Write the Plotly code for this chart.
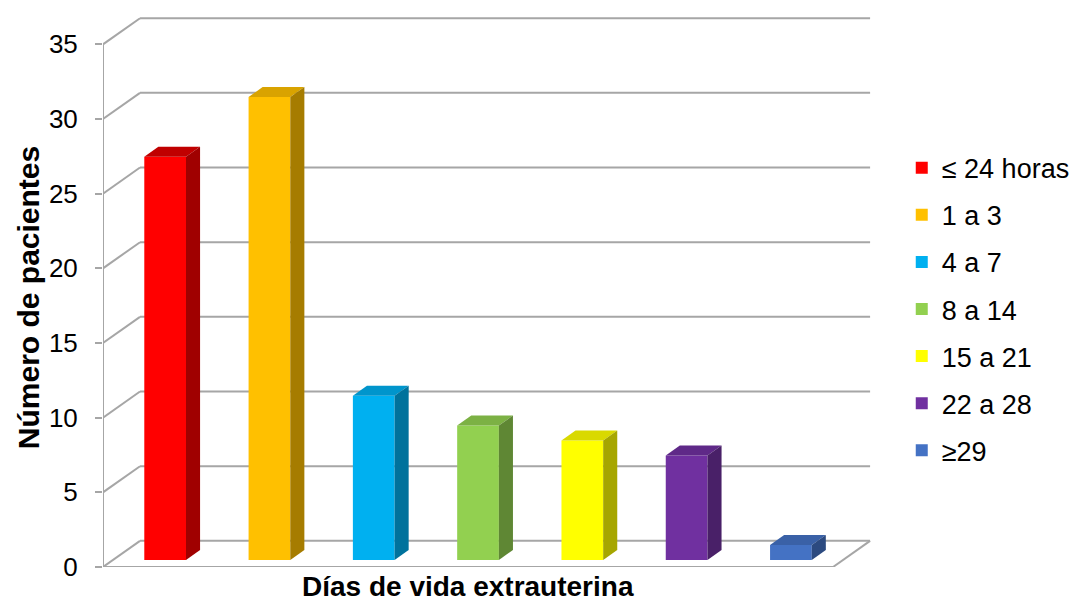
import plotly.graph_objects as go

# ---- data ----
categories = ["≤ 24 horas", "1 a 3", "4 a 7", "8 a 14", "15 a 21", "22 a 28", "≥29"]
values = [27, 31, 11, 9, 8, 7, 1]
y_ticks = [0, 5, 10, 15, 20, 25, 30, 35]
x_title = "Días de vida extrauterina"
y_title = "Número de pacientes"

# ---- styles ----
front_colors = ["#FF0000", "#FFC000", "#00B0F0", "#92D050", "#FFFF00", "#7030A0", "#4472C4"]
top_colors = ["#C00000", "#D9A300", "#0095CC", "#7CB144", "#D9D900", "#5F2988", "#3A61A7"]
side_colors = ["#A00000", "#A67C00", "#00729C", "#5F8734", "#A6A600", "#492068", "#2C4A80"]
GRID = "#A6A6A6"
FONT = "Liberation Sans, Arial, sans-serif"

DX, DY = 0.355, 1.75      # depth offset (x in category units, y in value units)
F0, F1 = 0.27, 0.65       # bar front / back depth fractions
W = 0.40                  # bar width
n = len(categories)
x_left, x_right = -0.5, n - 0.5

fig = go.Figure()

# front faces (bars)
for i, (cat, v) in enumerate(zip(categories, values)):
    fig.add_trace(go.Bar(
        x=[i + F0 * DX], y=[v], base=[F0 * DY], width=[W],
        marker=dict(color=front_colors[i], line=dict(width=0)),
        name=cat, legendgroup=cat, hovertext=[f"{cat}: {v}"], hoverinfo="text",
    ))

# top and side faces
for i, (cat, v) in enumerate(zip(categories, values)):
    xl, xr = i - W / 2, i + W / 2
    top_x = [xl + F0 * DX, xr + F0 * DX, xr + F1 * DX, xl + F1 * DX, xl + F0 * DX]
    top_y = [v + F0 * DY, v + F0 * DY, v + F1 * DY, v + F1 * DY, v + F0 * DY]
    fig.add_trace(go.Scatter(x=top_x, y=top_y, fill="toself", mode="lines",
                             line=dict(width=0), fillcolor=top_colors[i],
                             showlegend=False, hoverinfo="skip", legendgroup=cat))
    side_x = [xr + F0 * DX, xr + F1 * DX, xr + F1 * DX, xr + F0 * DX, xr + F0 * DX]
    side_y = [F0 * DY, F1 * DY, v + F1 * DY, v + F0 * DY, F0 * DY]
    fig.add_trace(go.Scatter(x=side_x, y=side_y, fill="toself", mode="lines",
                             line=dict(width=0), fillcolor=side_colors[i],
                             showlegend=False, hoverinfo="skip", legendgroup=cat))

# walls / gridlines as shapes beneath the bars
shapes = []
line = dict(color=GRID, width=2)
for t in y_ticks:
    shapes.append(dict(type="line", xref="x", yref="y", layer="below",
                       x0=x_left + DX, y0=t + DY, x1=x_right + DX, y1=t + DY, line=line))
    shapes.append(dict(type="line", xref="x", yref="y", layer="below",
                       x0=x_left, y0=t, x1=x_left + DX, y1=t + DY, line=line))
shapes.append(dict(type="line", xref="x", yref="y", layer="below",
                   x0=x_left, y0=y_ticks[0], x1=x_left, y1=y_ticks[-1], line=line))
shapes.append(dict(type="line", xref="x", yref="y", layer="below",
                   x0=x_left, y0=0, x1=x_right, y1=0, line=line))
shapes.append(dict(type="line", xref="x", yref="y", layer="below",
                   x0=x_right, y0=0, x1=x_right + DX, y1=DY, line=line))

fig.update_layout(
    width=1078, height=602,
    margin=dict(l=103, r=198, t=7, b=35, autoexpand=False),
    paper_bgcolor="white", plot_bgcolor="white",
    font=dict(family=FONT, color="black", size=27),
    shapes=shapes,
    barmode="overlay",
    showlegend=True,
    legend=dict(x=1.028, xanchor="left", y=0.756, yanchor="top",
                font=dict(size=27), tracegroupgap=9, itemclick=False,
                bgcolor="rgba(0,0,0,0)"),
    xaxis=dict(range=[x_left, x_right + 0.45], visible=False, fixedrange=True),
    yaxis=dict(range=[0, 37.5], tickvals=y_ticks, ticks="outside", ticklen=7,
               tickwidth=2, tickcolor=GRID, showgrid=False, zeroline=False,
               showline=False, tickfont=dict(size=26), ticklabelstandoff=12,
               fixedrange=True),
    annotations=[
        dict(text=f"<b>{x_title}</b>", xref="x", yref="paper",
             x=(x_left + x_right) / 2, y=-0.0355, xanchor="center", yanchor="middle",
             showarrow=False, font=dict(size=28)),
        dict(text=f"<b>{y_title}</b>", xref="paper", yref="paper",
             x=-0.0965, y=0.48, xanchor="center", yanchor="middle", textangle=-90,
             showarrow=False, font=dict(size=30)),
    ],
)

fig.write_html("out.html", config={"displayModeBar": False},
               post_script="document.body.style.margin='0';document.body.style.padding='0';")
